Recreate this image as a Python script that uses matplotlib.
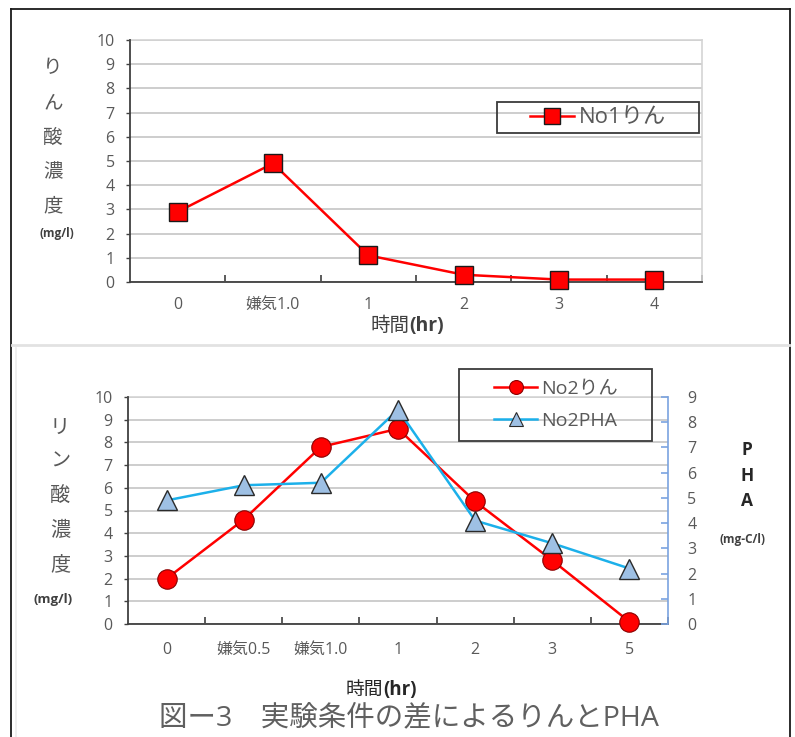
import matplotlib
matplotlib.use("Agg")
import matplotlib.pyplot as plt
from matplotlib.lines import Line2D
from matplotlib.ticker import FixedLocator

plt.rcParams['font.family'] = ['Open Sans', 'Noto Sans CJK JP', 'DejaVu Sans']

# ---- data ----
top_categories = ['0', '嫌気1.0', '1', '2', '3', '4']
no1_phosphate = [2.9, 4.9, 1.1, 0.3, 0.1, 0.1]

bottom_categories = ['0', '嫌気0.5', '嫌気1.0', '1', '2', '3', '5']
no2_phosphate = [2.0, 4.6, 7.8, 8.6, 5.4, 2.8, 0.1]
no2_pha = [4.9, 5.5, 5.6, 8.5, 4.1, 3.2, 2.2]

left_ticks = list(range(0, 11))
right_ticks = list(range(0, 10))

# ---- style ----
W, H = 795, 737
GRAY_TXT = '#595959'
GRID = '#c9c9c9'
AXIS = '#404040'
RED = '#ff0000'
BLUE_LINE = '#1cb0ea'
BLUE_FACE = '#9ec0e4'
RIGHT_SPINE = '#7aa3e0'
TICK_FS = 11.5


def fx(x):
    return x / W


def fy(y):
    return 1 - y / H


def rect(x0, y0, x1, y1):
    return [fx(x0), fy(y1), fx(x1) - fx(x0), fy(y0) - fy(y1)]


fig = plt.figure(figsize=(W / 100, H / 100), dpi=100)

# outer frame and divider
fig.add_artist(Line2D([fx(11), fx(790)], [fy(9), fy(9)], color='#1a1a1a', lw=1.3))
fig.add_artist(Line2D([fx(11), fx(11)], [fy(9), fy(737)], color='#1a1a1a', lw=1.3))
fig.add_artist(Line2D([fx(790), fx(790)], [fy(9), fy(737)], color='#1a1a1a', lw=1.3))
fig.add_artist(Line2D([fx(12), fx(789)], [fy(345), fy(345)], color='#e2e2e2', lw=2.0))
fig.add_artist(Line2D([fx(15.5), fx(15.5)], [fy(348), fy(737)], color='#ececec', lw=1.2))


def style_category_axis(ax, cats, pad):
    n = len(cats)
    ax.set_xlim(-0.5, n - 0.5)
    ax.set_xticks(range(n))
    ax.set_xticklabels(cats)
    ax.xaxis.set_minor_locator(FixedLocator([i + 0.5 for i in range(n)]))
    ax.tick_params(axis='x', which='major', length=0, pad=pad,
                   labelsize=TICK_FS, labelcolor=GRAY_TXT)
    ax.tick_params(axis='x', which='minor', direction='in', length=5,
                   width=1.2, color=AXIS)
    ax.set_ylim(0, 10)
    ax.set_yticks(left_ticks)
    ax.tick_params(axis='y', length=3, width=1.0, color=AXIS, pad=8,
                   labelsize=TICK_FS, labelcolor=GRAY_TXT)
    ax.grid(axis='y', color=GRID, lw=1.3)
    ax.set_axisbelow(True)
    for s in ('left', 'bottom'):
        ax.spines[s].set_color(AXIS)
        ax.spines[s].set_linewidth(1.3)
        ax.spines[s].set_zorder(3)
    for s in ('top', 'right'):
        ax.spines[s].set_color('#d4d4d4')
        ax.spines[s].set_linewidth(1.2)


def stacked_label(x, ys, chars, size):
    for y, c in zip(ys, chars):
        fig.text(fx(x), fy(y), c, ha='center', va='center', fontsize=size,
                 color=GRAY_TXT)


# ---- top chart ----
ax1 = fig.add_axes(rect(130, 40, 702, 282))
style_category_axis(ax1, top_categories, pad=11)
ax1.plot(range(len(top_categories)), no1_phosphate, color=RED, lw=1.8,
         marker='s', markersize=13, markerfacecolor=RED,
         markeredgecolor='#1a1a1a', markeredgewidth=1.0, clip_on=False,
         zorder=4)

stacked_label(53, [68, 103, 138, 172, 206], ['り', 'ん', '酸', '濃', '度'], 14)
fig.text(fx(57), fy(233), '(mg/l)', ha='center', va='center', fontsize=8.5,
         fontweight='bold', color='#404040')
fig.text(fx(409), fy(326), '時間', ha='right', va='center', fontsize=14,
         color='#404040')
fig.text(fx(409), fy(326), '(hr)', ha='left', va='center', fontsize=14,
         fontweight='bold', color='#404040')

leg1_handles = [Line2D([], [], color=RED, lw=1.8, marker='s', markersize=11,
                       markerfacecolor=RED, markeredgecolor='#1a1a1a',
                       markeredgewidth=1.0)]
fig.legend(leg1_handles, ['No1りん'], loc='center',
           bbox_to_anchor=(fx(598), fy(118)), frameon=False, fontsize=16,
           handlelength=2.0, handletextpad=0.2, borderpad=0,
           labelcolor=GRAY_TXT)
fig.add_artist(plt.Rectangle((fx(497), fy(133)), fx(699) - fx(497),
                             fy(102) - fy(133), fill=False,
                             edgecolor='#3a3a3a', lw=1.3,
                             transform=fig.transFigure))

# ---- bottom chart ----
ax2 = fig.add_axes(rect(128, 397, 668, 624))
style_category_axis(ax2, bottom_categories, pad=13)
ax2.spines['right'].set_visible(False)
xs = range(len(bottom_categories))
ax2.plot(xs, no2_phosphate, color=RED, lw=1.8, marker='o', markersize=14,
         markerfacecolor=RED, markeredgecolor='#8a0000', markeredgewidth=0.8,
         clip_on=False, zorder=4)

ax3 = ax2.twinx()
ax3.set_ylim(0, 9)
ax3.set_yticks(right_ticks)
for s in ('left', 'top', 'bottom'):
    ax3.spines[s].set_visible(False)
ax3.spines['right'].set_color(RIGHT_SPINE)
ax3.spines['right'].set_linewidth(1.2)
ax3.tick_params(axis='y', direction='in', length=5, width=1.2,
                color=RIGHT_SPINE, pad=14, labelsize=TICK_FS,
                labelcolor=GRAY_TXT)
ax3.plot(xs, no2_pha, color=BLUE_LINE, lw=1.8, marker='^', markersize=15,
         markerfacecolor=BLUE_FACE, markeredgecolor='#2a2a2a',
         markeredgewidth=1.0, clip_on=False, zorder=4)

stacked_label(60, [428, 462, 497, 531, 565], ['リ', 'ン', '酸', '濃', '度'], 14.5)
fig.text(fx(53), fy(600), '(mg/l)', ha='center', va='center', fontsize=9.5,
         fontweight='bold', color='#404040')
for y, c in zip([450, 476, 501], ['P', 'H', 'A']):
    fig.text(fx(747), fy(y), c, ha='center', va='center', fontsize=12.5,
             fontweight='bold', color='#262626')
fig.text(fx(742), fy(540), '(mg-C/l)', ha='center', va='center', fontsize=8.5,
         fontweight='bold', color='#404040')

fig.text(fx(383), fy(690), '時間', ha='right', va='center', fontsize=13.5,
         color='#262626')
fig.text(fx(383), fy(690), '(hr)', ha='left', va='center', fontsize=13.5,
         fontweight='bold', color='#262626')

leg2_handles = [
    Line2D([], [], color=RED, lw=1.8, marker='o', markersize=10,
           markerfacecolor=RED, markeredgecolor='#8a0000',
           markeredgewidth=0.8),
    Line2D([], [], color=BLUE_LINE, lw=1.8, marker='^', markersize=10,
           markerfacecolor=BLUE_FACE, markeredgecolor='#2a2a2a',
           markeredgewidth=0.8),
]
fig.legend(leg2_handles, ['No2りん', 'No2PHA'], loc='center',
           bbox_to_anchor=(fx(556), fy(405)), frameon=False, fontsize=14,
           handlelength=2.2, handletextpad=0.2, borderpad=0,
           labelspacing=0.75, labelcolor=GRAY_TXT)
fig.add_artist(plt.Rectangle((fx(459), fy(441)), fx(652) - fx(459),
                             fy(369) - fy(441), fill=False,
                             edgecolor='#3a3a3a', lw=1.3,
                             transform=fig.transFigure))

fig.text(fx(409), fy(718), '図ー3　実験条件の差によるりんとPHA', ha='center',
         va='center', fontsize=20.5, color='#606060')

fig.savefig('out.png', dpi=100)
